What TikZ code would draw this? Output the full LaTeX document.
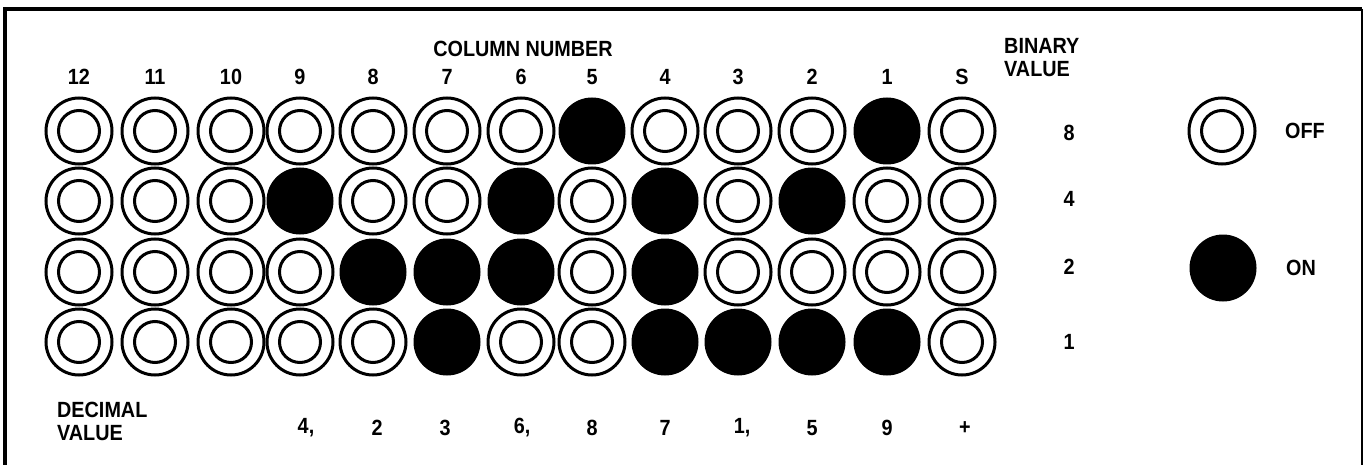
\documentclass[tikz,border=0pt]{standalone}
\usepackage{fontspec}
\setmainfont{Liberation Sans}[FakeStretch=0.9]
\begin{document}
\begin{tikzpicture}[x=1pt,y=-1pt,
  lbl/.style={font=\fontsize{22}{25}\selectfont\bfseries, inner sep=0pt},
  offring/.style={circle, draw, line width=3pt, minimum size=66pt, inner sep=0pt,
    path picture={\draw[line width=3pt] (path picture bounding box.center) circle (20.5pt);}},
  onspot/.style={circle, fill=black, minimum size=67pt, inner sep=0pt},
  framel/.style={line width=3.5pt}]
\useasboundingbox (0,0) rectangle (1364,465);
% frame
\coordinate (fbl) at (5,480);
\coordinate (ftl) at (5,9);
\coordinate (ftr) at (1362,9);
\coordinate (fbr) at (1362,480);
\draw[framel] (fbl) -- (ftl) -- (ftr);
\draw[line width=2.5pt] (ftr) -- (fbr);
% cells: column x / states for rows 8,4,2,1 (1 = on)
\foreach \x/\sa/\sb/\sc/\sd [count=\i] in {
   79/0/0/0/0, 155/0/0/0/0, 231/0/0/0/0, 300/0/1/0/0,
  373/0/0/1/0, 447/0/0/1/1, 521/0/1/1/0, 592/1/0/0/0,
  665/0/1/1/1, 738/0/0/0/1, 812/0/1/0/1, 887/1/0/0/1, 962/0/0/0/0} {
  \foreach \v/\y/\r in {\sa/131/1,\sb/201/2,\sc/272/3,\sd/342/4} {
    \ifnum\v=1
      \node[onspot] (b\r c\i) at (\x,\y) {};
    \else
      \node[offring] (b\r c\i) at (\x,\y) {};
    \fi
  }
}
% column labels
\foreach \x/\t [count=\i] in {79/12,155/11,231/10,300/9,373/8,447/7,521/6,592/5,665/4,738/3,812/2,887/1,962/S} {
  \node[lbl] (cl\i) at (\x,77) {\t};
}
\node[lbl] (colnum) at (523,49) {COLUMN NUMBER};
% binary value
\node[lbl, anchor=west, align=left] (binval) at (1004,58) {BINARY\\[-2pt]VALUE};
\node[lbl] (bv8) at (1069,133) {8};
\node[lbl] (bv4) at (1069,199) {4};
\node[lbl] (bv2) at (1069,267) {2};
\node[lbl] (bv1) at (1069,342) {1};
% legend
\node[offring] (legoff) at (1222,131) {};
\node[lbl] (legofft) at (1305,131) {OFF};
\node[onspot] (legon) at (1223,268) {};
\node[lbl] (legont) at (1301,268) {ON};
% decimal value
\node[lbl, anchor=west, align=left] (decval) at (57,421) {DECIMAL\\[-2pt]VALUE};
\foreach \x/\t [count=\i] in {306/{4,},377/2,445/3,522/{6,},592/8,665/7,742/{1,},812/5,887/9,965/+} {
  \node[lbl] (dv\i) at (\x,428) {\t};
}
\end{tikzpicture}
\end{document}
